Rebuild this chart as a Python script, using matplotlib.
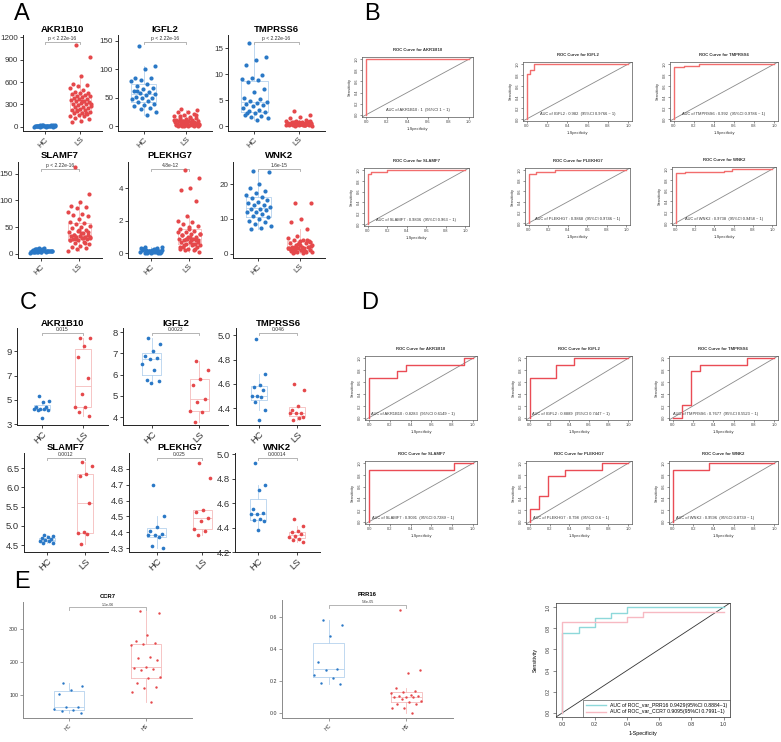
import numpy as np
import matplotlib.pyplot as plt

plt.rcParams['font.family'] = ['Liberation Sans', 'DejaVu Sans']

W, H = 781, 742
HC_COL = '#2A78C6'
LS_COL = '#E5484B'
HC_BOX = '#B5D2EE'
LS_BOX = '#F5BCBC'
GROUPS = ['HC', 'LS']

# ---- panel A (training cohort) ----
a_akr_hc = [5, 10, 8, 15, 20, 12, 3, 7, 18, 25, 9, 14, 6, 11, 22, 4, 16, 13, 19, 8,
            10, 27, 5, 12, 17, 9, 21, 6, 14, 11]
a_akr_ls = [1090, 930, 680, 580, 560, 550, 520, 500, 470, 460, 450, 440, 430, 420, 410,
            400, 390, 380, 370, 360, 350, 340, 330, 320, 310, 300, 290, 280, 270, 260,
            250, 240, 230, 220, 210, 200, 190, 180, 170, 160, 150, 140, 120, 100, 80,
            60, 180, 220, 300, 350]
a_igf_hc = [140, 105, 100, 85, 84, 82, 80, 75, 70, 68, 65, 62, 60, 58, 56, 55, 52, 50,
            50, 48, 45, 42, 40, 38, 35, 33, 30, 25, 20, 62]
a_igf_ls = [30, 28, 26, 25, 22, 20, 18, 16, 15, 14, 13, 12, 11, 10, 10, 9, 9, 8, 8, 7,
            7, 6, 6, 5, 5, 5, 4, 4, 3, 3, 3, 2, 2, 2, 1, 1, 1, 0.5, 0.5, 0.2, 12, 15,
            18, 20, 6, 4, 8, 10, 3, 2]
a_tmp_hc = [16, 13.2, 12.8, 11.7, 9.8, 9.2, 9, 8.8, 8.5, 7.2, 6.5, 5.5, 5.2, 4.8, 4.7,
            4.5, 4.2, 4, 3.8, 3.5, 3.2, 3, 2.7, 2.5, 2.2, 2, 1.8, 1.5, 1.2, 2.6]
a_tmp_ls = [3, 2.2, 1.8, 1.5, 1.2, 1, 1, 0.9, 0.8, 0.8, 0.7, 0.7, 0.6, 0.6, 0.5, 0.5,
            0.5, 0.4, 0.4, 0.4, 0.3, 0.3, 0.3, 0.2, 0.2, 0.2, 0.1, 0.1, 0.6, 0.7, 0.8,
            0.5, 0.4, 0.3, 0.9, 1.1, 0.6, 0.5, 0.4, 0.3, 0.2, 0.5, 0.6, 0.7, 0.8, 0.4,
            0.3, 0.5, 0.6, 0.4]
a_slm_hc = [3, 5, 8, 4, 6, 10, 2, 7, 9, 5, 4, 6, 3, 8, 5, 7, 4, 6, 9, 3, 5, 8, 6, 4, 7,
            5, 3, 6, 10, 4]
a_slm_ls = [162, 112, 97, 90, 88, 85, 78, 75, 72, 70, 65, 60, 58, 55, 52, 50, 48, 45,
            42, 40, 38, 36, 35, 34, 33, 32, 31, 30, 29, 28, 27, 26, 25, 22, 20, 18, 15,
            12, 10, 8, 5, 30, 35, 40, 45, 25, 20, 28, 32, 38]
a_ple_hc = [0.05, 0.1, 0.2, 0.3, 0.35, 0.15, 0.08, 0.25, 0.4, 0.12, 0.02, 0.18, 0.3,
            0.06, 0.22, 0.1, 0.28, 0.04, 0.14, 0.33, 0.09, 0.2, 0.03, 0.16, 0.26, 0.07,
            0.11, 0.38, 0.13, 0.05]
a_ple_ls = [5.1, 4.6, 4.0, 3.9, 3.2, 2.3, 2.0, 1.9, 1.8, 1.7, 1.6, 1.5, 1.4, 1.3, 1.2,
            1.2, 1.1, 1.0, 1.0, 0.9, 0.9, 0.8, 0.8, 0.7, 0.7, 0.6, 0.6, 0.5, 0.5, 0.4,
            0.4, 0.3, 0.3, 0.2, 0.2, 0.1, 1.0, 1.1, 0.8, 0.9, 1.3, 0.6, 0.5, 0.7, 1.5,
            0.4, 0.3, 0.9, 1.2, 0.8]
a_wnk_hc = [24, 23.5, 20, 19, 18, 17.5, 17, 16.5, 16, 15.5, 15, 14.5, 14, 14, 13.5, 13,
            13, 12.5, 12, 12, 11.5, 11, 10.5, 10, 9.5, 9, 8.5, 8, 7.5, 7]
a_wnk_ls = [14.5, 14.5, 10, 9, 7, 5, 4.5, 4, 4, 3.5, 3.5, 3, 3, 2.5, 2.5, 2, 2, 2, 1.5,
            1.5, 1.5, 1, 1, 1, 0.8, 0.5, 0.5, 0.3, 0.2, 0.1, 2, 3, 1.2, 0.7, 1.8, 2.2,
            1.1, 0.9, 4, 2.8, 1.6, 0.6, 0.4, 3.2, 2.4]

# ---- panel C (validation cohort) ----
c_akr_hc = [5.3, 4.9, 4.8, 4.4, 4.4, 4.3, 4.3, 4.3, 4.2, 4.2, 3.5]
c_akr_ls = [10.1, 10.1, 9.4, 8.5, 6.8, 5.5, 4.4, 4.4, 4.0, 3.7]
c_igf_hc = [7.75, 7.45, 7.1, 6.9, 6.8, 6.75, 6.5, 6.2, 5.75, 5.7, 5.6]
c_igf_ls = [6.65, 6.2, 5.8, 5.5, 4.85, 4.7, 4.3, 4.25, 3.75]
c_tmp_hc = [4.97, 4.68, 4.59, 4.57, 4.55, 4.5, 4.5, 4.49, 4.45, 4.38, 4.3]
c_tmp_ls = [4.6, 4.55, 4.42, 4.38, 4.36, 4.36, 4.36, 4.32, 4.3, 4.33]
c_slm_hc = [4.75, 4.73, 4.7, 4.68, 4.65, 4.62, 4.6, 4.6, 4.55, 4.55]
c_slm_ls = [6.65, 6.55, 6.35, 6.3, 5.6, 4.85, 4.82, 4.78, 4.52]
c_ple_hc = [4.7, 4.5, 4.43, 4.41, 4.39, 4.38, 4.38, 4.37, 4.31, 4.3]
c_ple_ls = [4.84, 4.74, 4.54, 4.53, 4.49, 4.47, 4.42, 4.41, 4.38]
c_wnk_hc = [4.93, 4.75, 4.71, 4.55, 4.52, 4.51, 4.51, 4.47, 4.46, 4.45, 4.38]
c_wnk_ls = [4.47, 4.41, 4.37, 4.36, 4.35, 4.33, 4.32, 4.31, 4.3, 4.28]

# ---- panel E ----
e_ccr_hc = [135, 128, 115, 102, 64, 62, 57, 54, 52, 45]
e_ccr_ls = [355, 348, 283, 265, 257, 255, 252, 215, 213, 205, 185, 183, 178, 175, 155,
            150, 135, 125, 122, 108, 80]
e_prr_hc = [0.58, 0.55, 0.48, 0.32, 0.275, 0.27, 0.24, 0.22, 0.19, 0.18]
e_prr_ls = [0.64, 0.27, 0.25, 0.155, 0.14, 0.135, 0.125, 0.115, 0.11, 0.105, 0.1, 0.1,
            0.1, 0.09, 0.075, 0.07, 0.06, 0.055, 0.035, 0.03, 0.0]

# ---- ROC curves: (1-specificity, sensitivity) ----
b_akr_x, b_akr_y = [0, 0, 1], [0, 1, 1]
b_igf_x, b_igf_y = [0, 0, 0.03, 0.03, 0.07, 0.07, 1], [0, 0.82, 0.82, 0.9, 0.9, 1, 1]
b_tmp_x, b_tmp_y = [0, 0, 0.1, 0.1, 0.25, 0.25, 1], [0, 0.95, 0.95, 0.97, 0.97, 1, 1]
b_slm_x, b_slm_y = [0, 0, 0.03, 0.03, 0.2, 0.2, 1], [0, 0.92, 0.92, 0.97, 0.97, 1, 1]
b_ple_x, b_ple_y = [0, 0, 0.07, 0.07, 0.27, 0.27, 1], [0, 0.92, 0.92, 0.97, 0.97, 1, 1]
b_wnk_x = [0, 0, 0.1, 0.1, 0.5, 0.5, 0.58, 0.58, 1]
b_wnk_y = [0, 0.92, 0.92, 0.95, 0.95, 0.97, 0.97, 1, 1]
b_auc = ['AUC of AKR1B10 : 1  (95%CI 1 ~ 1)',
         'AUC of IGFL2 : 0.982  (95%CI 0.9766 ~ 1)',
         'AUC of TMPRSS6 : 0.992  (95%CI 0.9786 ~ 1)',
         'AUC of SLAMF7 : 0.9836  (95%CI 0.963 ~ 1)',
         'AUC of PLEKHG7 : 0.9868  (95%CI 0.9746 ~ 1)',
         'AUC of WNK2 : 0.9738  (95%CI 0.9458 ~ 1)']

d_akr_x = [0, 0, 0.27, 0.27, 0.36, 0.36, 0.91, 0.91, 1]
d_akr_y = [0, 0.67, 0.67, 0.78, 0.78, 0.89, 0.89, 1, 1]
d_igf_x = [0, 0, 0.27, 0.27, 0.45, 0.45, 1]
d_igf_y = [0, 0.67, 0.67, 0.89, 0.89, 1, 1]
d_tmp_x = [0, 0.09, 0.09, 0.18, 0.18, 0.27, 0.27, 0.73, 0.73, 1]
d_tmp_y = [0, 0, 0.22, 0.22, 0.78, 0.78, 0.89, 0.89, 1, 1]
d_slm_x, d_slm_y = [0, 0, 0.82, 0.82, 1], [0, 0.89, 0.89, 1, 1]
d_ple_x = [0, 0, 0.09, 0.09, 0.18, 0.18, 0.36, 0.36, 0.73, 0.73, 1]
d_ple_y = [0, 0.22, 0.22, 0.44, 0.44, 0.78, 0.78, 0.89, 0.89, 1, 1]
d_wnk_x, d_wnk_y = [0, 0, 0.36, 0.36, 1], [0, 0.89, 0.89, 1, 1]
d_auc = ['AUC of AKR1B10 : 0.8283  (95%CI 0.6149 ~ 1)',
         'AUC of IGFL2 : 0.8889  (95%CI 0.7447 ~ 1)',
         'AUC of TMPRSS6 : 0.7677  (95%CI 0.5523 ~ 1)',
         'AUC of SLAMF7 : 0.9091  (95%CI 0.7289 ~ 1)',
         'AUC of PLEKHG7 : 0.798  (95%CI 0.6 ~ 1)',
         'AUC of WNK2 : 0.9596  (95%CI 0.8739 ~ 1)']

e_prr_x = [0, 0, 0.1, 0.1, 0.2, 0.2, 0.3, 0.3, 0.4, 0.4, 1]
e_prr_y = [0, 0.76, 0.76, 0.81, 0.81, 0.9, 0.9, 0.95, 0.95, 1, 1]
e_ccr_x = [0, 0, 0.4, 0.4, 0.5, 0.5, 1]
e_ccr_y = [0, 0.857, 0.857, 0.905, 0.905, 0.952, 0.952]

genes = ['AKR1B10', 'IGFL2', 'TMPRSS6', 'SLAMF7', 'PLEKHG7', 'WNK2']
a_p = ['p < 2.22e-16', 'p < 2.22e-16', 'p < 2.22e-16', 'p < 2.22e-16', '4.8e-12', '1.6e-15']
c_p = ['0.015', '0.0023', '0.046', '0.0012', '0.025', '0.00014']

fig = plt.figure(figsize=(W / 100, H / 100), dpi=100)


def px_axes(x0, y0, x1, y1):
    return fig.add_axes([x0 / W, 1 - y1 / H, (x1 - x0) / W, (y1 - y0) / H])


def jitter(n, spread):
    k = np.arange(n)
    return ((k * 0.618034 + 0.31) % 1 - 0.5) * 2 * spread


def dot_box(ax, hc, ls, ylim, yticks, width, spread, size, fs, labels=GROUPS,
            axcol='#222222'):
    for pos, vals, c, bc in [(1, hc, HC_COL, HC_BOX), (2, ls, LS_COL, LS_BOX)]:
        ax.boxplot(vals, positions=[pos], widths=width, showfliers=False,
                   showcaps=False, manage_ticks=False,
                   boxprops=dict(color=bc, lw=0.6),
                   whiskerprops=dict(color=bc, lw=0.6),
                   medianprops=dict(color=bc, lw=0.6))
        ax.scatter(pos + jitter(len(vals), spread), vals, s=size, color=c, lw=0,
                   zorder=3)
    ax.set_xlim(0.4, 2.6)
    ax.set_ylim(*ylim)
    ax.set_yticks(yticks)
    ax.set_xticks([1, 2])
    ax.set_xticklabels(labels, rotation=45, ha='right', rotation_mode='anchor')
    for s in ['top', 'right']:
        ax.spines[s].set_visible(False)
    for s in ['left', 'bottom']:
        ax.spines[s].set_color(axcol)
        ax.spines[s].set_linewidth(0.7)
    ax.tick_params(labelsize=fs, length=2, width=0.6, color=axcol, pad=1.5,
                   labelcolor='#333333')


def bracket(ax, frac, txt, fs):
    tr = ax.get_xaxis_transform()
    ax.plot([1, 1, 2, 2], [frac - 0.025, frac, frac, frac - 0.025], color='#A8A8A8',
            lw=0.6, transform=tr, clip_on=False)
    ax.text(1.5, frac + 0.005, txt, ha='center', va='bottom', fontsize=fs,
            color='#333333', transform=tr)


def roc(ax, fx, fy, title, auc, color, tx, ty, fs=2.9):
    ax.plot([-0.04, 1.04], [-0.04, 1.04], color='#8A8A8A', lw=0.6)
    ax.plot(fx, fy, color=color, lw=1.0)
    ax.set_xlim(-0.04, 1.04)
    ax.set_ylim(-0.04, 1.04)
    ticks = np.arange(0, 1.01, 0.2)
    ax.set_xticks(ticks)
    ax.set_yticks(ticks)
    ax.set_xticklabels(['%.1f' % t for t in ticks])
    ax.set_yticklabels(['%.1f' % t for t in ticks], rotation=90, va='center')
    ax.tick_params(labelsize=fs, length=1.5, width=0.4, pad=1, colors='#444444')
    for s in ax.spines.values():
        s.set_linewidth(0.5)
        s.set_color('#555555')
    ax.set_title(title, fontsize=fs + 0.2, fontweight='bold', pad=4, color='#333333')
    ax.set_xlabel('1-Specificity', fontsize=fs, labelpad=2, color='#333333')
    ax.set_ylabel('Sensitivity', fontsize=fs, labelpad=2, color='#333333')
    ax.text(tx, ty, auc, ha='center', va='center', fontsize=fs, color='#333333')


def letter(x, y, s):
    fig.text(x / W, 1 - y / H, s, fontsize=17, ha='center', va='center')


def title_at(ax, y, s, fs=6.8):
    bb = ax.get_position()
    fig.text(bb.x0 + bb.width / 2, 1 - y / H, s, fontsize=fs, fontweight='bold',
             ha='center', va='center')


# ---------------- panel A ----------------
letter(22, 14, 'A')
a_data = [(a_akr_hc, a_akr_ls), (a_igf_hc, a_igf_ls), (a_tmp_hc, a_tmp_ls),
          (a_slm_hc, a_slm_ls), (a_ple_hc, a_ple_ls), (a_wnk_hc, a_wnk_ls)]
a_lims = [(-55, 1230), (-8, 160), (-0.9, 17.5), (-8, 172), (-0.28, 5.6), (-1.3, 26.5)]
a_ticks = [[0, 300, 600, 900, 1200], [0, 50, 100, 150], [0, 5, 10, 15],
           [0, 50, 100, 150], [0, 2, 4], [0, 10, 20]]
a_boxes = [(23, 35, 102, 131), (118, 35, 212, 131), (228, 35, 325, 131),
           (18, 162, 102, 258), (128, 162, 212, 258), (233, 162, 325, 258)]
a_tit_y = [30, 30, 30, 155, 155, 155]
for i in range(6):
    ax = px_axes(*a_boxes[i])
    dot_box(ax, a_data[i][0], a_data[i][1], a_lims[i], a_ticks[i], 0.6, 0.3, 9, 5.8)
    bracket(ax, 0.93, a_p[i], 3.6)
    title_at(ax, a_tit_y[i], genes[i])

# ---------------- panel B ----------------
letter(372, 14, 'B')
b_boxes = [(362, 57, 473, 117), (523, 62, 632, 121), (670, 62, 778, 121),
           (364, 168, 469, 226), (525, 168, 630, 225), (672, 167, 776, 225)]
b_curves = [(b_akr_x, b_akr_y), (b_igf_x, b_igf_y), (b_tmp_x, b_tmp_y),
            (b_slm_x, b_slm_y), (b_ple_x, b_ple_y), (b_wnk_x, b_wnk_y)]
for i in range(6):
    ax = px_axes(*b_boxes[i])
    roc(ax, b_curves[i][0], b_curves[i][1], 'ROC Curve for ' + genes[i], b_auc[i],
        '#F26D6D', 0.5, 0.08)

# ---------------- panel C ----------------
letter(28, 303, 'C')
c_data = [(c_akr_hc, c_akr_ls), (c_igf_hc, c_igf_ls), (c_tmp_hc, c_tmp_ls),
          (c_slm_hc, c_slm_ls), (c_ple_hc, c_ple_ls), (c_wnk_hc, c_wnk_ls)]
c_lims = [(2.95, 10.9), (3.63, 8.2), (4.26, 5.06), (4.32, 6.89), (4.275, 4.9),
          (4.2, 5.01)]
c_ticks = [[3, 5, 7, 9], [4, 5, 6, 7, 8], [4.4, 4.6, 4.8, 5.0],
           [4.5, 5.0, 5.5, 6.0, 6.5], [4.3, 4.4, 4.5, 4.6, 4.7, 4.8],
           [4.2, 4.4, 4.6, 4.8, 5.0]]
c_boxes = [(17, 328, 108, 425), (123, 328, 228, 425), (236, 328, 320, 425),
           (24, 453, 108, 552), (129, 453, 230, 552), (235, 453, 320, 552)]
c_tit_y = [323, 323, 323, 448, 448, 448]
for i in range(6):
    ax = px_axes(*c_boxes[i])
    dot_box(ax, c_data[i][0], c_data[i][1], c_lims[i], c_ticks[i], 0.4, 0.2, 7, 6.8)
    if i < 3 or i == 4:
        ax.yaxis.set_major_formatter(plt.FormatStrFormatter('%g' if i < 2 else '%.1f'))
    else:
        ax.yaxis.set_major_formatter(plt.FormatStrFormatter('%.1f'))
    bracket(ax, 0.95, c_p[i], 3.6)
    title_at(ax, c_tit_y[i], genes[i])

# ---------------- panel D ----------------
letter(370, 303, 'D')
d_boxes = [(365, 356, 477, 420), (526, 356, 632, 420), (669, 356, 778, 420),
           (365, 461, 477, 524), (526, 461, 632, 524), (669, 461, 778, 524)]
d_curves = [(d_akr_x, d_akr_y), (d_igf_x, d_igf_y), (d_tmp_x, d_tmp_y),
            (d_slm_x, d_slm_y), (d_ple_x, d_ple_y), (d_wnk_x, d_wnk_y)]
for i in range(6):
    ax = px_axes(*d_boxes[i])
    roc(ax, d_curves[i][0], d_curves[i][1], 'ROC Curve for ' + genes[i], d_auc[i],
        '#EA4C55', 0.42, 0.06)

# ---------------- panel E ----------------
letter(22, 582, 'E')
ax = px_axes(23, 602, 192, 718)
dot_box(ax, e_ccr_hc, e_ccr_ls, (30, 382), [100, 200, 300], 0.4, 0.2, 3, 3.8,
        labels=['HC', 'HS'], axcol='#8A8A8A')
bracket(ax, 0.955, '1.1e-06', 2.6)
title_at(ax, 597, 'CCR7', fs=4.2)

ax = px_axes(282, 600, 453, 718)
dot_box(ax, e_prr_hc, e_prr_ls, (-0.03, 0.705), [0.0, 0.2, 0.4, 0.6], 0.4, 0.2, 3,
        3.8, labels=['HC', 'HS'], axcol='#8A8A8A')
ax.yaxis.set_major_formatter(plt.FormatStrFormatter('%.1f'))
bracket(ax, 0.96, '5.6e-05', 2.6)
title_at(ax, 595, 'PRR16', fs=4.2)

ax = px_axes(556, 603, 730, 717)
ax.plot([-0.04, 1.04], [-0.04, 1.04], color='#333333', lw=0.6)
l1, = ax.plot(e_prr_x, e_prr_y, color='#8ED8DA', lw=1.0)
l2, = ax.plot(e_ccr_x, e_ccr_y, color='#F7B9C2', lw=1.0)
ax.set_xlim(-0.04, 1.04)
ax.set_ylim(-0.04, 1.04)
ticks = np.arange(0, 1.01, 0.2)
ax.set_xticks(ticks)
ax.set_yticks(ticks)
ax.set_xticklabels(['%.1f' % t for t in ticks])
ax.set_yticklabels(['%.1f' % t for t in ticks], rotation=90, va='center')
ax.tick_params(labelsize=3.7, length=2, width=0.4, pad=1.5, colors='#333333')
for s in ax.spines.values():
    s.set_linewidth(0.5)
    s.set_color('#333333')
ax.set_xlabel('1-Specificity', fontsize=3.8, labelpad=3)
ax.set_ylabel('Sensitivity', fontsize=3.8, labelpad=6)
leg = ax.legend([l1, l2], ['AUC of ROC_var_PRR16 0.9429(95%CI 0.8884~1)',
                           'AUC of ROC_var_CCR7 0.9095(95%CI 0.7991~1)'],
                loc='lower right', fontsize=3.7, frameon=True, fancybox=False,
                borderpad=0.5, handlelength=4, borderaxespad=0, labelspacing=0.3)
leg.get_frame().set_edgecolor('#333333')
leg.get_frame().set_linewidth(0.5)

fig.savefig('out.png', dpi=100)
